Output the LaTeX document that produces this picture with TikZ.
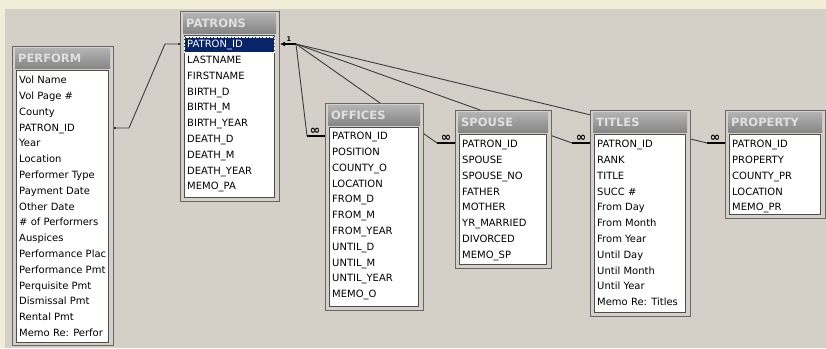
\documentclass[tikz,border=0pt]{standalone}
\usepackage{fontspec}
\setmainfont{DejaVu Sans}
\usetikzlibrary{arrows.meta}
\definecolor{winbg}{RGB}{212,208,200}
\definecolor{deskbg}{RGB}{242,237,214}
\definecolor{selblue}{RGB}{10,36,106}
\definecolor{linegray}{RGB}{60,60,60}
\definecolor{titletext}{RGB}{224,224,224}
\definecolor{titletop}{RGB}{178,178,178}
\definecolor{titlebot}{RGB}{132,132,132}
\pgfdeclarelayer{canvas}
\pgfdeclarelayer{links}
\pgfsetlayers{canvas,links,main}

\begin{document}
\begin{tikzpicture}[x=1pt, y=-1pt,
    ventana/.style={anchor=north west, inner sep=0pt, fill=winbg,
                    draw=black!60, line width=1pt},
    barra/.style={anchor=north west, inner sep=0pt, inner xsep=3pt,
                  minimum height=20pt, top color=titletop, bottom color=titlebot,
                  font=\fontsize{11.5}{12}\selectfont\bfseries, text=titletext},
    lista/.style={anchor=north west, inner sep=0pt, fill=white,
                  draw=black!70, line width=0.8pt},
    campos/.style={anchor=north west, inner sep=0pt, align=left,
                   font=\fontsize{10}{15.8}\selectfont},
    enlace/.style={draw=linegray, line width=0.9pt},
    union/.style={enlace, {Square[length=2pt,width=2pt]}-{Square[length=2pt,width=2pt]}},
    uno/.style={-{Latex[length=5pt,width=5pt]}, line width=1.6pt},
    tope/.style={line width=2.8pt},
    muchos/.style={font=\fontsize{12.5}{12}\selectfont\bfseries, inner sep=0.3pt, above}
  ]

  % Fondo
  \useasboundingbox (0,0) rectangle (826,348);
  \begin{pgfonlayer}{canvas}
    \fill[deskbg] (0,0) rectangle (826,348);
    \fill[winbg] (5,9) rectangle (826,348);
  \end{pgfonlayer}

  % --- PERFORM ---
  \node[ventana, minimum width=101pt, minimum height=299pt] (perform) at (12,46) {};
  \node[barra, text width=89pt] (perform-t) at ([shift={(3pt,-2.5pt)}]perform.north west) {PERFORM};
  \node[lista, minimum width=92pt, minimum height=272pt] (perform-l)
      at ([shift={(4pt,-24pt)}]perform.north west) {};
  \node[campos] (perform-c) at ([shift={(3pt,-2.5pt)}]perform-l.north west)
      {\strut Vol Name\\ Vol Page \#\\ County\\ PATRON\_ID\\ Year\\ Location\\
       Performer Type\\ Payment Date\\ Other Date\\ \# of Performers\\ Auspices\\
       Performance Plac\\ Performance Pmt\\ Perquisite Pmt\\ Dismissal Pmt\\
       Rental Pmt\\ Memo Re: Perfor};

  % --- PATRONS ---
  \node[ventana, minimum width=99pt, minimum height=190pt] (patrons) at (180,11) {};
  \node[barra, text width=87pt] (patrons-t) at ([shift={(3pt,-2.5pt)}]patrons.north west) {PATRONS};
  \node[lista, minimum width=90pt, minimum height=162pt] (patrons-l)
      at ([shift={(4pt,-24pt)}]patrons.north west) {};
  \node[anchor=north west, inner sep=0pt, fill=selblue, draw=white, densely dotted,
        minimum width=90pt, minimum height=15pt] (patrons-sel)
      at ([shift={(0pt,-2pt)}]patrons-l.north west) {};
  \node[campos] (patrons-c) at ([shift={(3pt,-1.5pt)}]patrons-l.north west)
      {\strut\textcolor{white}{PATRON\_ID}\\ LASTNAME\\ FIRSTNAME\\ BIRTH\_D\\
       BIRTH\_M\\ BIRTH\_YEAR\\ DEATH\_D\\ DEATH\_M\\ DEATH\_YEAR\\ MEMO\_PA};

  % --- OFFICES ---
  \node[ventana, minimum width=98pt, minimum height=207pt] (offices) at (325,103) {};
  \node[barra, text width=86pt] (offices-t) at ([shift={(3pt,-2.5pt)}]offices.north west) {OFFICES};
  \node[lista, minimum width=89pt, minimum height=179pt] (offices-l)
      at ([shift={(4pt,-24pt)}]offices.north west) {};
  \node[campos] (offices-c) at ([shift={(3pt,-1.5pt)}]offices-l.north west)
      {\strut PATRON\_ID\\ POSITION\\ COUNTY\_O\\ LOCATION\\ FROM\_D\\ FROM\_M\\
       FROM\_YEAR\\ UNTIL\_D\\ UNTIL\_M\\ UNTIL\_YEAR\\ MEMO\_O};

  % --- SPOUSE ---
  \node[ventana, minimum width=96pt, minimum height=158pt] (spouse) at (455,110) {};
  \node[barra, text width=84pt] (spouse-t) at ([shift={(3pt,-2.5pt)}]spouse.north west) {SPOUSE};
  \node[lista, minimum width=87pt, minimum height=130pt] (spouse-l)
      at ([shift={(4pt,-24pt)}]spouse.north west) {};
  \node[campos] (spouse-c) at ([shift={(3pt,-2.5pt)}]spouse-l.north west)
      {\strut PATRON\_ID\\ SPOUSE\\ SPOUSE\_NO\\ FATHER\\ MOTHER\\ YR\_MARRIED\\
       DIVORCED\\ MEMO\_SP};

  % --- TITLES ---
  \node[ventana, minimum width=100pt, minimum height=206pt] (titles) at (590,110) {};
  \node[barra, text width=88pt] (titles-t) at ([shift={(3pt,-2.5pt)}]titles.north west) {TITLES};
  \node[lista, minimum width=91pt, minimum height=178pt] (titles-l)
      at ([shift={(4pt,-24pt)}]titles.north west) {};
  \node[campos] (titles-c) at ([shift={(3pt,-2.5pt)}]titles-l.north west)
      {\strut PATRON\_ID\\ RANK\\ TITLE\\ SUCC \#\\ From Day\\ From Month\\
       From Year\\ Until Day\\ Until Month\\ Until Year\\ Memo Re: Titles};

  % --- PROPERTY ---
  \node[ventana, minimum width=100pt, minimum height=108pt] (property) at (725,110) {};
  \node[barra, text width=88pt] (property-t) at ([shift={(3pt,-2.5pt)}]property.north west) {PROPERTY};
  \node[lista, minimum width=91pt, minimum height=80pt] (property-l)
      at ([shift={(4pt,-24pt)}]property.north west) {};
  \node[campos] (property-c) at ([shift={(3pt,-2.5pt)}]property-l.north west)
      {\strut PATRON\_ID\\ PROPERTY\\ COUNTY\_PR\\ LOCATION\\ MEMO\_PR};

  % Puntos de union (fila PATRON_ID)
  \coordinate (perform-pid)  at ([yshift=-82pt]perform.north east);
  \coordinate (patrons-pidw) at ([yshift=-33pt]patrons.north west);
  \coordinate (patrons-pide) at ([yshift=-33pt]patrons.north east);
  \coordinate (offices-pid)  at ([yshift=-33pt]offices.north west);
  \coordinate (spouse-pid)   at ([yshift=-33pt]spouse.north west);
  \coordinate (titles-pid)   at ([yshift=-33pt]titles.north west);
  \coordinate (property-pid) at ([yshift=-33pt]property.north west);
  \coordinate (hub) at ([xshift=16pt]patrons-pide);

  % --- Relaciones ---
  \begin{pgfonlayer}{links}
    \draw[union] (perform-pid) -- ([xshift=15pt]perform-pid)
        -- ([xshift=-15pt]patrons-pidw) -- (patrons-pidw);
    \draw[uno] (hub) -- (patrons-pide)
        node[pos=0.45, above, font=\fontsize{6.5}{7}\selectfont\bfseries, inner sep=1.5pt] {1};
    \draw[enlace] (hub) -- ([xshift=-18pt]offices-pid);
    \draw[enlace] (hub) -- ([xshift=-18pt]spouse-pid);
    \draw[enlace] (hub) -- ([xshift=-18pt]titles-pid);
    \draw[enlace] (hub) -- ([xshift=-18pt]property-pid);
  \end{pgfonlayer}
  \draw[tope] ([xshift=-18pt]offices-pid) -- (offices-pid) node[muchos, pos=0.45] {∞};
  \draw[tope] ([xshift=-18pt]spouse-pid) -- (spouse-pid) node[muchos, pos=0.5] {∞};
  \draw[tope] ([xshift=-18pt]titles-pid) -- (titles-pid) node[muchos, pos=0.5] {∞};
  \draw[tope] ([xshift=-18pt]property-pid) -- (property-pid) node[muchos, pos=0.45] {∞};

\end{tikzpicture}
\end{document}
